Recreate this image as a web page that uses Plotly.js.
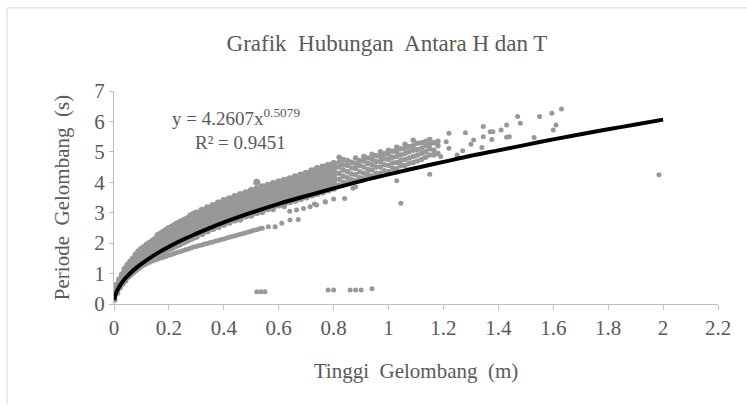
<!DOCTYPE html>
<html>
<head>
<meta charset="utf-8">
<script src="https://cdn.plot.ly/plotly-3.0.1.min.js"></script>
<style>html,body{margin:0;padding:0;background:#fff;}#chart{width:747px;height:405px;}</style>
</head>
<body>
<div id="chart"></div>
<script>
// ---- Data ----
// Dense band: x column -> list of periods (s) observed at that wave height (m)
const bandX = [0.00,0.01,0.02,0.03,0.04,0.05,0.06,0.07,0.08,0.09,0.10,0.11,0.12,0.13,0.14,0.15,0.16,0.17,0.18,0.19,0.20,0.21,0.22,0.23,0.24,0.25,0.26,0.27,0.28,0.29,0.30,
  0.32,0.34,0.36,0.38,0.40,0.42,0.44,0.46,0.48,0.50,0.52,0.54,0.56,0.58,0.60,0.62,0.64,0.66,0.68,0.70,0.72,0.74,0.76,0.78,0.80];
const bandY = [
  [0.15,0.28,0.40],[0.38,0.50,0.62],[0.55,0.68,0.80],[0.68,0.82,0.96],[0.78,0.92,1.05,1.14],
  [0.90,1.03,1.16,1.27],[0.98,1.12,1.26,1.38],[1.06,1.20,1.34,1.48],[1.13,1.27,1.41,1.55,1.62],
  [1.20,1.34,1.48,1.62,1.72],[1.27,1.40,1.54,1.68,1.80],[1.33,1.47,1.61,1.75,1.86],
  [1.39,1.53,1.67,1.81,1.94],[1.45,1.59,1.73,1.87,2.00],[1.50,1.64,1.78,1.92,2.06],
  [1.56,1.70,1.84,1.98,2.12],[1.61,1.75,1.89,2.03,2.17,2.25],[1.66,1.80,1.94,2.08,2.22,2.30],
  [1.71,1.85,1.99,2.13,2.27,2.36],[1.76,1.90,2.04,2.18,2.32,2.42],[1.81,1.95,2.09,2.23,2.37,2.48],
  [1.85,1.99,2.13,2.27,2.41,2.52],[1.90,2.04,2.18,2.32,2.46,2.58],[1.94,2.08,2.22,2.36,2.50,2.63],
  [1.98,2.12,2.26,2.40,2.54,2.68],[2.03,2.17,2.31,2.45,2.59,2.72],[2.07,2.21,2.35,2.49,2.63,2.77],
  [2.11,2.25,2.39,2.53,2.67,2.81],[2.15,2.29,2.43,2.57,2.71,2.85,2.90],[2.19,2.33,2.47,2.61,2.75,2.89,2.95],
  [2.23,2.37,2.51,2.65,2.79,2.93,2.99],
  [2.32,2.46,2.60,2.74,2.88,3.02,3.08],[2.40,2.54,2.68,2.82,2.96,3.10,3.16],[2.48,2.62,2.76,2.90,3.04,3.18,3.24],
  [2.55,2.69,2.83,2.97,3.11,3.25,3.32],[2.62,2.76,2.90,3.04,3.18,3.32,3.40],[2.69,2.83,2.97,3.11,3.25,3.39,3.46],
  [2.76,2.90,3.04,3.18,3.32,3.46,3.53],[2.82,2.96,3.10,3.24,3.38,3.52,3.60],[2.89,3.03,3.17,3.31,3.45,3.59,3.66],
  [2.95,3.09,3.23,3.37,3.51,3.65,3.73],[3.01,3.15,3.29,3.43,3.57,3.71,3.78,4.00],[3.07,3.21,3.35,3.49,3.63,3.77,3.85],
  [3.13,3.27,3.41,3.55,3.69,3.83,3.90],[3.19,3.33,3.47,3.61,3.75,3.89,3.96],[3.25,3.39,3.53,3.67,3.81,3.95,4.02],
  [3.30,3.44,3.58,3.72,3.86,4.00,4.07],[3.36,3.50,3.64,3.78,3.92,4.06,4.12],[3.41,3.55,3.69,3.83,3.97,4.11,4.18],
  [3.47,3.61,3.75,3.89,4.03,4.17,4.24],[3.52,3.66,3.80,3.94,4.08,4.22,4.30],[3.58,3.72,3.86,4.00,4.14,4.28,4.38],
  [3.63,3.77,3.91,4.05,4.19,4.33,4.45],[3.68,3.82,3.96,4.10,4.24,4.38,4.50],[3.75,3.88,4.02,4.16,4.30,4.44,4.56],
  [3.80,3.94,4.08,4.22,4.36,4.50,4.62]
];
// Sparser cloud above the trend line
const cloudX = [0.82,0.85,0.88,0.91,0.94,0.97,1.00,1.03,1.06,1.09,1.12,1.15,1.18,
  0.835,0.865,0.895,0.925,0.955,0.985,1.015,1.045,1.075,1.105,1.135,1.165];
const cloudY = [
  [3.90,4.10,4.30,4.50,4.66,4.82],[3.98,4.15,4.35,4.55,4.72],[4.05,4.25,4.45,4.62,4.80],
  [4.12,4.30,4.50,4.70,4.85],[4.20,4.40,4.58,4.76,4.92],[4.30,4.50,4.68,4.85,5.00],
  [4.35,4.55,4.75,4.92,5.05],[4.45,4.65,4.85,5.00,5.15],[4.55,4.75,4.95,5.12,5.25],
  [4.65,4.85,5.05,5.20,5.38],[4.75,4.95,5.12,5.30],[4.90,5.10,5.25,5.41],[4.95,5.20,5.35],
  [4.00,4.20,4.40,4.58,4.75],[4.08,4.27,4.47,4.66],[4.15,4.35,4.55,4.72],[4.25,4.42,4.62,4.80],
  [4.30,4.50,4.68,4.87],[4.38,4.58,4.77,4.95],[4.45,4.63,4.82,5.02],[4.55,4.72,4.90,5.10],
  [4.62,4.80,5.00,5.18],[4.70,4.90,5.08,5.28],[4.82,5.00,5.20,5.35],[4.90,5.05,5.30]
];
// Lower branch below the trend line
const lowX = [0.10,0.11,0.12,0.13,0.14,0.15,0.16,0.17,0.18,0.19,0.20,0.21,0.22,0.23,0.24,0.25,0.26,0.27,0.28,0.29,0.30,
  0.31,0.32,0.33,0.34,0.35,0.36,0.37,0.38,0.39,0.40,0.41,0.42,0.43,0.44,0.45,0.46,0.47,0.48,0.49,0.50,0.51,0.52,0.53,0.54,
  0.562,0.587,0.611,0.641,0.671];
const lowY = [1.25,1.29,1.33,1.37,1.41,1.45,1.48,1.51,1.54,1.57,1.60,1.63,1.66,1.69,1.72,1.75,1.78,1.81,1.84,1.87,1.89,
  1.92,1.94,1.97,1.99,2.02,2.04,2.07,2.09,2.12,2.14,2.17,2.19,2.22,2.24,2.27,2.29,2.32,2.34,2.37,2.39,2.42,2.44,2.47,2.49,
  2.54,2.54,2.65,2.76,2.78];
// Middle branch just under the trend line
const midX = [0.46,0.50,0.54,0.58,0.62,0.64,0.665,0.69,0.714,0.73,0.738,0.769,0.77,0.80,0.84,0.87,0.88];
const midY = [2.75,2.88,3.00,3.10,3.20,3.05,3.09,3.14,3.20,3.29,3.25,3.36,3.35,3.45,3.47,3.80,3.85];
// Scattered points at larger heights
const sparseX = [1.19,1.21,1.22,1.22,1.25,1.27,1.28,1.30,1.31,1.34,1.345,1.345,1.37,1.376,1.38,1.41,1.43,1.43,1.44,1.47,1.48,1.53,1.55,1.595,1.60,1.61,1.63,1.985,1.03,1.045,1.15];
const sparseY = [4.85,5.33,5.12,5.61,4.90,5.04,5.63,5.25,5.39,5.14,5.50,5.83,5.66,5.41,5.66,5.72,5.88,5.48,5.50,6.16,5.94,5.47,6.16,6.27,5.72,5.88,6.41,4.25,4.05,3.31,4.26];
// Very low periods
const bottomX = [0.52,0.535,0.55,0.78,0.80,0.86,0.88,0.90,0.94];
const bottomY = [0.40,0.40,0.40,0.46,0.46,0.46,0.46,0.46,0.50];
// Power trend line y = 4.2607x^0.5079
const trendX = [0.001,0.005,0.01,0.02,0.03,0.04,0.06,0.08,0.10,0.13,0.16,0.20,0.25,0.30,0.35,0.40,0.50,0.60,0.70,0.80,0.90,1.0,1.1,1.2,1.3,1.4,1.5,1.6,1.7,1.8,1.9,2.0];
const trendY = [0.13,0.29,0.41,0.58,0.72,0.83,1.02,1.18,1.32,1.51,1.68,1.88,2.11,2.31,2.50,2.68,3.00,3.29,3.55,3.80,4.04,4.26,4.47,4.67,4.87,5.05,5.23,5.41,5.58,5.74,5.90,6.06];
const xTicks = [0,0.2,0.4,0.6,0.8,1,1.2,1.4,1.6,1.8,2,2.2];
const xTickText = ['0','0.2','0.4','0.6','0.8','1','1.2','1.4','1.6','1.8','2','2.2'];
const yTicks = [0,1,2,3,4,5,6,7];

// ---- Build scatter points ----
const denseX = [], denseY = [];
bandX.forEach((x,i)=>bandY[i].forEach(y=>{denseX.push(x);denseY.push(y);}));
const cX = [], cY = [];
cloudX.forEach((x,i)=>cloudY[i].forEach(y=>{cX.push(x);cY.push(y);}));
const ptsX = [], ptsY = [];
[[lowX,lowY],[midX,midY],[sparseX,sparseY],[bottomX,bottomY]].forEach(([a,b])=>{a.forEach((x,i)=>{ptsX.push(x);ptsY.push(b[i]);});});

const serif = 'Liberation Serif';
const txt = '#595959';
const nb = '\u00a0';
const grey = '#989898';

const traces = [
  {x: denseX, y: denseY, type:'scatter', mode:'markers', marker:{color:grey, size:7}, hoverinfo:'skip', showlegend:false},
  {x: cX, y: cY, type:'scatter', mode:'markers', marker:{color:grey, size:5.5}, hoverinfo:'skip', showlegend:false},
  {x: ptsX, y: ptsY, type:'scatter', mode:'markers', marker:{color:grey, size:5}, hoverinfo:'skip', showlegend:false},
  {x: trendX, y: trendY, type:'scatter', mode:'lines', line:{color:'#000', width:4, shape:'spline'}, showlegend:false}
];

const layout = {
  width:747, height:405,
  margin:{l:114, r:29, t:91, b:101},
  paper_bgcolor:'#fff', plot_bgcolor:'#fff',
  font:{family:serif, color:txt, size:20},
  title:{text:'Grafik'+nb+' Hubungan'+nb+' Antara H dan T', font:{family:serif, size:23, color:txt}, x:0.518, xanchor:'center', y:0.895, yanchor:'middle', xref:'container', yref:'container'},
  xaxis:{range:[0,2.2], tickvals:xTicks, ticktext:xTickText, showgrid:false, zeroline:false,
    showline:true, linecolor:'#bfbfbf', linewidth:1, ticks:'outside', ticklen:5, tickcolor:'#bfbfbf',
    tickfont:{family:serif, size:21, color:txt},
    title:{text:'Tinggi'+nb+' Gelombang'+nb+' (m)', font:{family:serif, size:21, color:txt}, standoff:24}},
  yaxis:{range:[0,7], tickvals:yTicks, showgrid:false, zeroline:false,
    showline:true, linecolor:'#bfbfbf', linewidth:1, ticks:'outside', ticklen:4, tickcolor:'#bfbfbf',
    tickfont:{family:serif, size:21, color:txt},
    title:{text:'Periode'+nb+' Gelombang'+nb+' (s)', font:{family:serif, size:21, color:txt}, standoff:18}},
  annotations:[
    {xref:'paper', yref:'paper', x:0.093, y:0.88, xanchor:'left', yanchor:'middle', showarrow:false,
     text:'y = 4.2607x<sup>0.5079</sup>', font:{family:serif, size:19, color:txt}},
    {xref:'paper', yref:'paper', x:0.131, y:0.76, xanchor:'left', yanchor:'middle', showarrow:false,
     text:'R² = 0.9451', font:{family:serif, size:19, color:txt}}
  ],
  shapes:[
    {type:'line', xref:'paper', yref:'paper', x0:-0.177, x1:1.05, y0:1.39, y1:1.39, line:{color:'#d9d9d9', width:1}},
    {type:'line', xref:'paper', yref:'paper', x0:-0.177, x1:-0.177, y0:1.39, y1:-0.47, line:{color:'#d9d9d9', width:1}}
  ]
};
Plotly.newPlot('chart', traces, layout, {displayModeBar:false, staticPlot:true});
</script>
</body>
</html>
